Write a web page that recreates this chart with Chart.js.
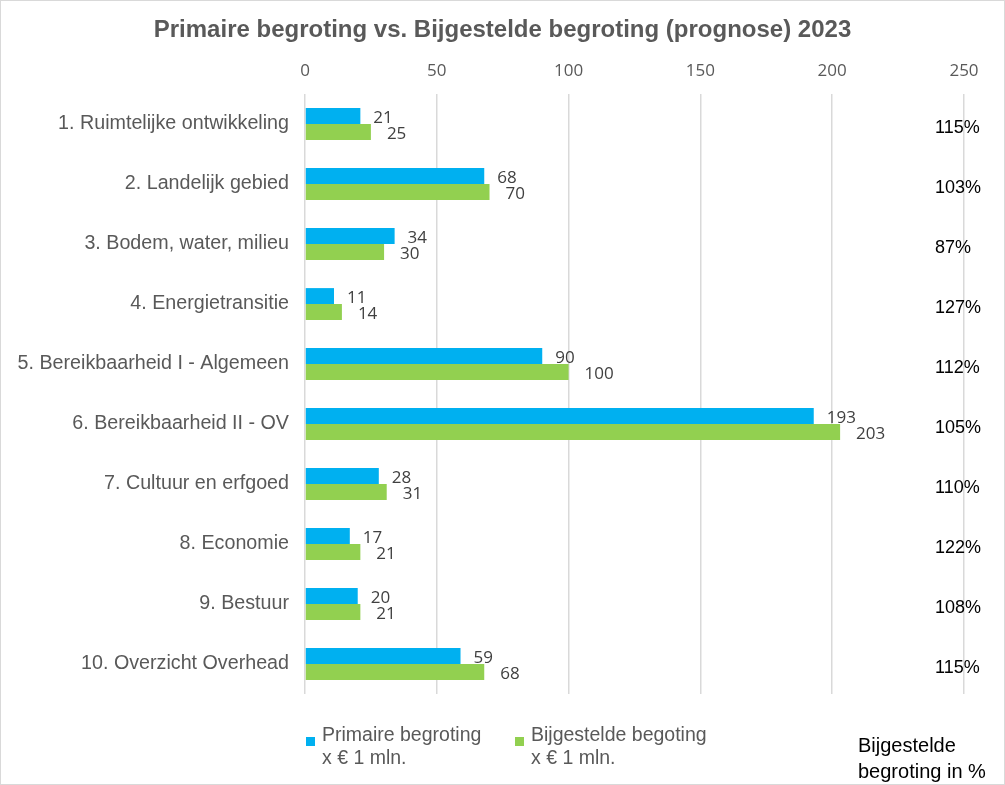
<!DOCTYPE html>
<html>
<head>
<meta charset="utf-8">
<script src="https://cdn.jsdelivr.net/npm/chart.js@4.4.0/dist/chart.umd.min.js"></script>
<style>
  html, body { margin: 0; padding: 0; background: #fff; }
  #wrap { width: 1005px; height: 785px; }
</style>
</head>
<body>
<div id="wrap"><canvas id="c" width="1005" height="785"></canvas></div>
<script>
const categories = [
    "1. Ruimtelijke ontwikkeling",
    "2. Landelijk gebied",
    "3. Bodem, water, milieu",
    "4. Energietransitie",
    "5. Bereikbaarheid I - Algemeen",
    "6. Bereikbaarheid II - OV",
    "7. Cultuur en erfgoed",
    "8. Economie",
    "9. Bestuur",
    "10. Overzicht Overhead"
];
const primair = [21, 68, 34, 11, 90, 193, 28, 17, 20, 59];
const bijgesteld = [25, 70, 30, 14, 100, 203, 31, 21, 21, 68];
const percentages = ["115%", "103%", "87%", "127%", "112%", "105%", "110%", "122%", "108%", "115%"];
const primairLabel = ["Primaire begroting", "x € 1 mln."];
const bijgesteldLabel = ["Bijgestelde begoting", "x € 1 mln."];
const pctTitle = ["Bijgestelde", "begroting in %"];
const chartTitle = "Primaire begroting vs. Bijgestelde begroting (prognose) 2023";

const blue = "#00B0F0";
const green = "#92D050";
const textGray = "#595959";
const gridColor = "#d9d9d9";
const arial = "'Liberation Sans', Arial, sans-serif";

// white background, thin frame and the title (centred on the whole picture)
const framePlugin = {
    id: "frame",
    beforeDraw(chart) {
        const ctx = chart.ctx;
        ctx.save();
        ctx.fillStyle = "#fff";
        ctx.fillRect(0, 0, chart.width, chart.height);
        ctx.strokeStyle = gridColor;
        ctx.lineWidth = 1;
        ctx.strokeRect(0.5, 0.5, chart.width - 1, chart.height - 1);

        ctx.font = "bold 24px " + arial;
        ctx.fillStyle = textGray;
        ctx.textAlign = "center";
        ctx.textBaseline = "middle";
        ctx.fillText(chartTitle, chart.width / 2, 30);
        ctx.restore();
    }
};

// numbers next to the bars
const valueLabels = {
    id: "valueLabels",
    afterDatasetsDraw(chart) {
        const ctx = chart.ctx;
        const gaps = [13, 16];
        ctx.save();
        ctx.font = "17px 'Open Sans', sans-serif";
        ctx.fillStyle = "#404040";
        ctx.textAlign = "left";
        ctx.textBaseline = "middle";
        chart.data.datasets.forEach(function (ds, i) {
            chart.getDatasetMeta(i).data.forEach(function (bar, j) {
                ctx.fillText(ds.data[j], bar.x + gaps[i], bar.y + 2);
            });
        });
        ctx.restore();
    }
};

// percentage column on the right, legend and note at the bottom
const sideText = {
    id: "sideText",
    afterDraw(chart) {
        const ctx = chart.ctx;
        const area = chart.chartArea;
        const yScale = chart.scales.y;
        ctx.save();
        ctx.textBaseline = "middle";
        ctx.textAlign = "left";

        ctx.font = "18px " + arial;
        ctx.fillStyle = "#000";
        percentages.forEach(function (p, i) {
            ctx.fillText(p, area.right - 29, yScale.getPixelForValue(i) + 4);
        });

        // legend
        const items = [
            { x: area.left + 1, color: blue, lines: primairLabel },
            { x: area.left + 210, color: green, lines: bijgesteldLabel }
        ];
        const legendY = area.bottom + 42;
        ctx.font = "19.5px " + arial;
        items.forEach(function (it) {
            ctx.fillStyle = it.color;
            ctx.fillRect(it.x, legendY + 1, 9, 9);
            ctx.fillStyle = textGray;
            it.lines.forEach(function (line, k) {
                ctx.fillText(line, it.x + 16, legendY + k * 23);
            });
        });

        ctx.font = "20px " + arial;
        ctx.fillStyle = "#000";
        pctTitle.forEach(function (line, k) {
            ctx.fillText(line, area.right - 106, legendY + 10 + k * 26);
        });
        ctx.restore();
    }
};

new Chart(document.getElementById("c"), {
    type: "bar",
    data: {
        labels: categories,
        datasets: [{
            label: primairLabel.join(" "),
            data: primair,
            backgroundColor: blue,
            categoryPercentage: 0.53,
            barPercentage: 1.0
        }, {
            label: bijgesteldLabel.join(" "),
            data: bijgesteld,
            backgroundColor: green,
            categoryPercentage: 0.53,
            barPercentage: 1.0
        }]
    },
    options: {
        indexAxis: "y",
        responsive: false,
        animation: false,
        devicePixelRatio: 1,
        layout: {
            padding: { left: 0, right: 41, top: 44, bottom: 91 }
        },
        plugins: {
            legend: { display: false },
            tooltip: { enabled: false },
            title: { display: false }
        },
        scales: {
            x: {
                position: "top",
                min: 0,
                max: 250,
                ticks: {
                    stepSize: 50,
                    color: textGray,
                    padding: 13,
                    font: { family: "'Open Sans', sans-serif", size: 17 }
                },
                grid: { color: gridColor, lineWidth: 1.5, drawTicks: false },
                border: { display: false },
                afterFit: function (scale) { scale.height = 50; }
            },
            y: {
                ticks: {
                    color: textGray,
                    padding: 16,
                    font: { family: arial, size: 19.7 }
                },
                grid: { display: false, drawTicks: false },
                border: { display: false },
                afterFit: function (scale) { scale.width = 305; }
            }
        }
    },
    plugins: [framePlugin, valueLabels, sideText]
});
</script>
</body>
</html>
